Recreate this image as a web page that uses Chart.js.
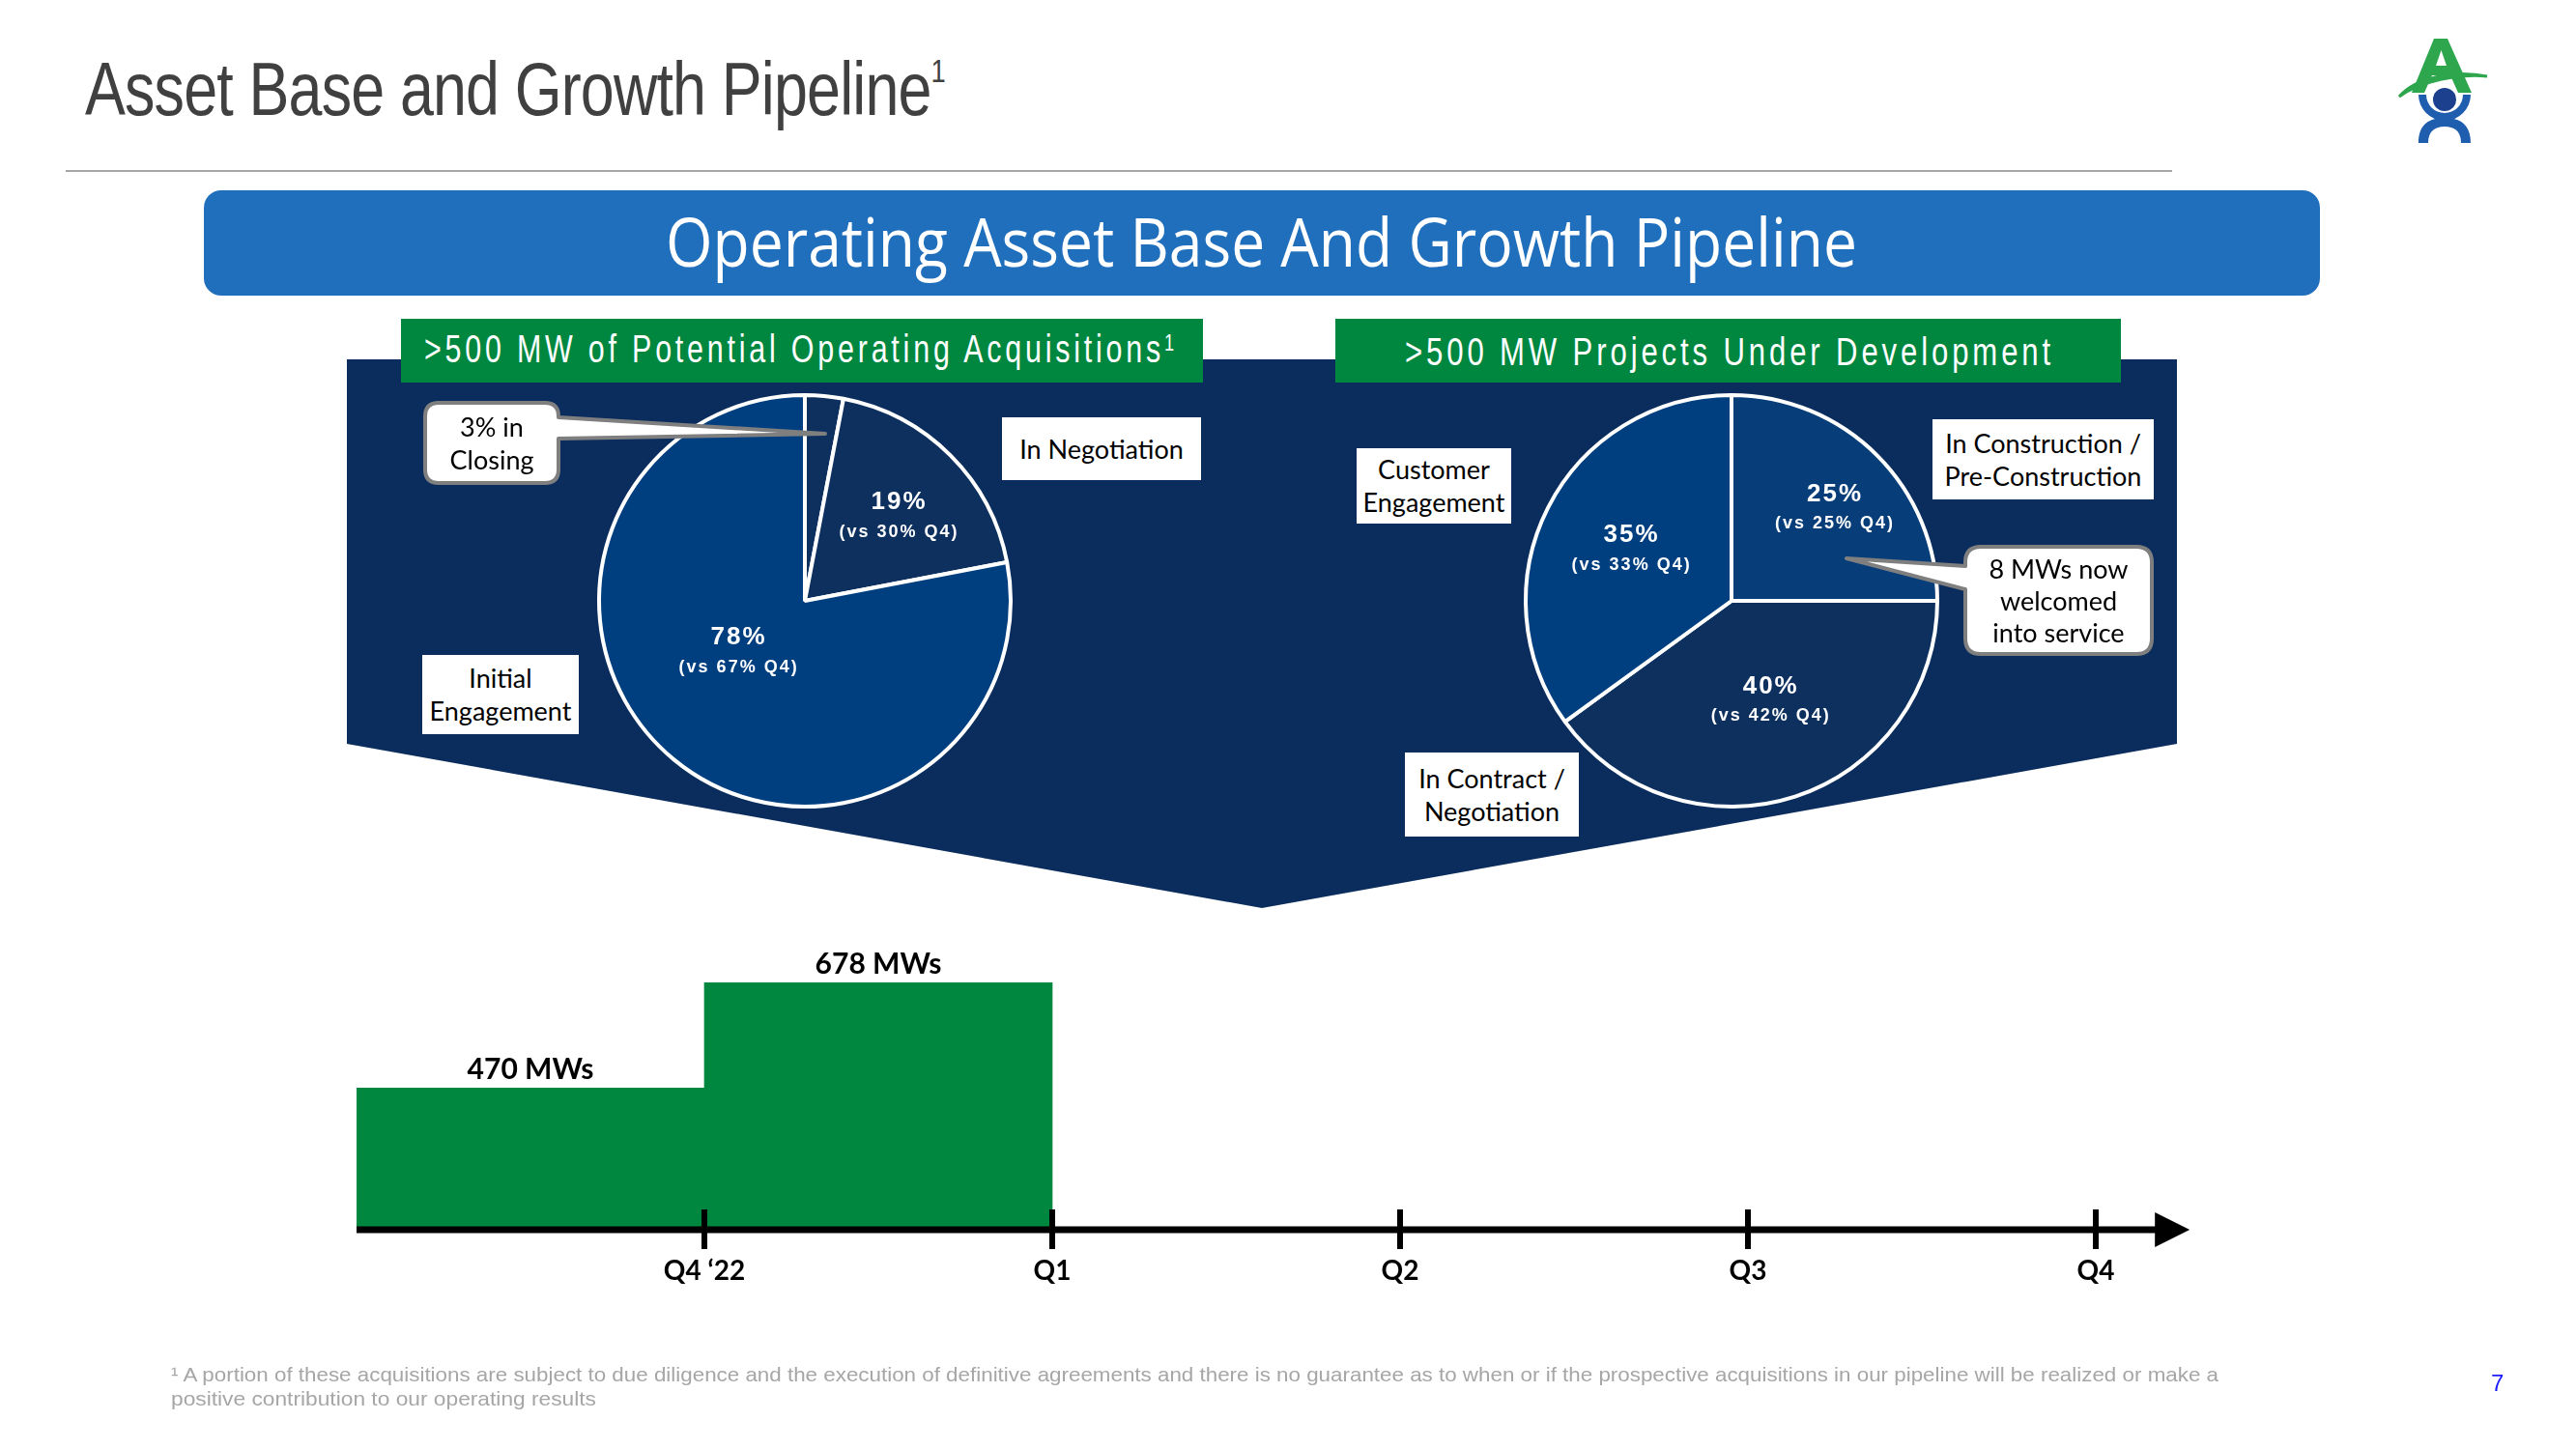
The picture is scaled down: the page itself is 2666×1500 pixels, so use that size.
<!DOCTYPE html>
<html><head><meta charset="utf-8">
<script src="https://cdn.jsdelivr.net/npm/chart.js@4.4.0/dist/chart.umd.min.js"></script>
<style>
html,body{margin:0;padding:0;background:#fff;}
body{width:2666px;height:1500px;position:relative;overflow:hidden;font-family:"Liberation Sans",Arial,sans-serif;}
.abs{position:absolute;}
.fit{white-space:nowrap;transform-origin:0 50%;display:inline-block;}
.row{position:absolute;display:flex;align-items:center;}
.box{position:absolute;background:#fff;display:flex;align-items:center;justify-content:center;text-align:center;font-family:Lato,"Open Sans",sans-serif;font-size:27px;line-height:34px;color:#000;}
canvas{position:absolute;}
</style></head>
<body>
<!-- title -->
<div class="abs fit" data-w="890" style="left:88px;top:53px;font-size:78px;line-height:78px;color:#404040;letter-spacing:-1px;">Asset Base and Growth Pipeline<span style="font-size:34px;position:relative;top:-34px;">1</span></div>
<div class="abs" style="left:68px;top:176px;width:2180px;height:2px;background:#a6a6a6;"></div>

<!-- logo -->
<svg class="abs" style="left:2470px;top:30px" width="120" height="130" viewBox="2470 30 120 130">
  <path d="M2519,40 H2533 L2558,96 H2544 L2536,78 H2517 L2509,96 H2496 Z M2521,68 H2532 L2526.5,52 Z" fill="#2ea64d" fill-rule="evenodd"/>
  <path d="M2483,100 C2500,80 2540,72 2574,79 C2545,76 2505,84 2483,100 Z" fill="#2ea64d" stroke="#2ea64d" stroke-width="3"/>
  <circle cx="2530" cy="103" r="12" fill="#1c3f8e"/>
  <path d="M2503,98 A27,27 0 0 0 2557,98 L2549,98 A19,19 0 0 1 2511,98 Z" fill="#1f5eae"/>
  <path d="M2503,148 C2503,128 2515,122 2530,122 C2545,122 2557,128 2557,148 H2547 C2547,136 2540,131 2530,131 C2520,131 2513,136 2513,148 Z" fill="#1f5eae"/>
</svg>

<!-- banner -->
<div class="abs" style="left:211px;top:197px;width:2190px;height:109px;background:#1f6fbd;border-radius:18px;"></div>
<div class="row" style="left:689px;top:194px;height:109px;"><span class="fit" data-w="1233" style="font-family:'Open Sans',sans-serif;font-size:70px;line-height:70px;color:#fff;">Operating Asset Base And Growth Pipeline</span></div>

<!-- navy funnel -->
<svg class="abs" style="left:0;top:0" width="2666" height="1500">
  <polygon points="359,372 2253,372 2253,770 1306,940 359,770" fill="#0b2d5d"/>
</svg>

<!-- green headers -->
<div class="abs" style="left:415px;top:330px;width:830px;height:66px;background:#00873f;"></div>
<div class="abs" style="left:1382px;top:330px;width:813px;height:66px;background:#00873f;"></div>
<div class="row" style="left:439px;top:331px;height:66px;"><span class="fit" data-w="780" style="font-size:40px;line-height:40px;color:#fff;letter-spacing:5px;">&gt;500 MW of Potential Operating Acquisitions<span style="font-size:24px;position:relative;top:-12px;">1</span></span></div>
<div class="row" style="left:1454px;top:331px;height:66px;"><span class="fit" data-w="672" style="font-size:40px;line-height:40px;color:#fff;letter-spacing:5px;">&gt;500 MW Projects Under Development</span></div>

<!-- charts -->
<canvas id="pieAcq" width="460" height="460" style="left:603px;top:392px;"></canvas>
<canvas id="pieDev" width="460" height="460" style="left:1562px;top:392px;"></canvas>
<canvas id="bar" width="2239" height="440" style="left:300px;top:940px;"></canvas>

<!-- callouts -->
<svg class="abs" style="left:0;top:0" width="2666" height="1500">
  <path d="M454,417 H564 Q578,417 578,431 L578,432 L854,449 L578,454 L578,486 Q578,500 564,500 H454 Q440,500 440,486 V431 Q440,417 454,417 Z" fill="#fff" stroke="#7f7f7f" stroke-width="4" stroke-linejoin="round"/>
  <path d="M2050,566 H2211 Q2227,566 2227,582 V661 Q2227,677 2211,677 H2050 Q2034,677 2034,661 V610 L1911,578 L2034,586 V582 Q2034,566 2050,566 Z" fill="#fff" stroke="#7f7f7f" stroke-width="4" stroke-linejoin="round"/>
</svg>
<div class="box" style="left:440px;top:417px;width:138px;height:83px;background:transparent;">3% in<br>Closing</div>
<div class="box" style="left:2034px;top:566px;width:193px;height:111px;background:transparent;line-height:33px;">8 MWs now<br>welcomed<br>into service</div>

<!-- label boxes -->
<div class="box" style="left:1037px;top:432px;width:206px;height:65px;">In Negotiation</div>
<div class="box" style="left:437px;top:678px;width:162px;height:82px;">Initial<br>Engagement</div>
<div class="box" style="left:1404px;top:464px;width:160px;height:78px;">Customer<br>Engagement</div>
<div class="box" style="left:2000px;top:434px;width:229px;height:83px;">In Construction /<br>Pre-Construction</div>
<div class="box" style="left:1454px;top:779px;width:180px;height:87px;">In Contract /<br>Negotiation</div>

<!-- footnote -->
<div class="abs fit" data-w="2119" style="left:177px;top:1412px;font-size:21px;line-height:21px;color:#a6a6a6;">¹ A portion of these acquisitions are subject to due diligence and the execution of definitive agreements and there is no guarantee as to when or if the prospective acquisitions in our pipeline will be realized or make a</div>
<div class="abs fit" data-w="440" style="left:177px;top:1437px;font-size:21px;line-height:21px;color:#a6a6a6;">positive contribution to our operating results</div>
<div class="abs" style="left:2578px;top:1420px;font-size:24px;line-height:24px;color:#1a1aff;">7</div>

<script>
// ---------- data ----------
const acqCategories = ['Closing', 'In Negotiation', 'Initial Engagement'];
const acqShares = [3, 19, 78];
const acqPriorQ4 = [null, 30, 67];

const devCategories = ['In Construction / Pre-Construction', 'In Contract / Negotiation', 'Customer Engagement'];
const devShares = [25, 40, 35];
const devPriorQ4 = [25, 42, 33];

const timelineLabels = ['Q4 \u201822', 'Q1', 'Q2', 'Q3', 'Q4'];
const timelineTicks = [1, 2, 3, 4, 5];
const capacityPeriods = ['Q4 \u201822', 'Q1'];
const capacityMW = [470, 678];

// ---------- fit text widths ----------
document.querySelectorAll('.fit[data-w]').forEach(el => {
  const w = el.getBoundingClientRect().width;
  const target = +el.dataset.w;
  if (w > 0) el.style.transform = 'scaleX(' + (target / w) + ')';
});

// ---------- pies ----------
const pieLabelPlugin = {
  id: 'pieLabels',
  afterDatasetsDraw(chart, args, opts) {
    const ctx = chart.ctx;
    const meta = chart.getDatasetMeta(0);
    const ds = chart.data.datasets[0];
    meta.data.forEach((arc, i) => {
      const place = opts.place[i];
      if (!place) return;
      const p = arc.getProps(['x', 'y', 'startAngle', 'endAngle', 'outerRadius']);
      const a = (p.startAngle + p.endAngle) / 2 + place[1] * Math.PI / 180;
      const r = p.outerRadius * place[0];
      const cx = p.x + Math.cos(a) * r, cy = p.y + Math.sin(a) * r;
      ctx.save();
      ctx.fillStyle = '#fff';
      ctx.textAlign = 'center';
      ctx.textBaseline = 'middle';
      ctx.letterSpacing = '2px';
      ctx.font = 'bold 26px "Liberation Sans", Arial, sans-serif';
      ctx.fillText(ds.data[i] + '%', cx + 1, cy - 15);
      ctx.font = 'bold 18px "Liberation Sans", Arial, sans-serif';
      ctx.fillText('(vs ' + opts.prior[i] + '% Q4)', cx + 1, cy + 16);
      ctx.restore();
    });
  }
};

function makePie(id, labels, shares, colors, prior, place) {
  return new Chart(document.getElementById(id), {
    type: 'pie',
    data: { labels: labels, datasets: [{ data: shares, backgroundColor: colors, borderColor: '#ffffff', borderWidth: 4, radius: 213, hoverOffset: 0 }] },
    options: {
      responsive: false, animation: false, events: [],
      layout: { padding: 0 },
      plugins: { legend: { display: false }, tooltip: { enabled: false }, pieLabels: { prior: prior, place: place } }
    },
    plugins: [pieLabelPlugin]
  });
}

makePie('pieAcq', acqCategories, acqShares, ['#0d305f', '#0d305f', '#003f7f'], acqPriorQ4,
  [null, [0.61, 3], [0.41, 13]]);
makePie('pieDev', devCategories, devShares, ['#073d79', '#0d305f', '#003f7f'], devPriorQ4,
  [[0.67, 3], [0.52, -3], [0.55, 0]]);

// ---------- timeline bars ----------
const timelinePlugin = {
  id: 'timeline',
  afterDatasetsDraw(chart, args, o) {
    const { ctx } = chart;
    const x = chart.scales.x, y = chart.scales.y;
    const y0 = y.getPixelForValue(y.min);
    const xs = x.getPixelForValue(o.start), xe = x.getPixelForValue(o.end);
    ctx.save();
    ctx.fillStyle = '#000'; ctx.strokeStyle = '#000';
    ctx.lineWidth = 7;
    ctx.beginPath(); ctx.moveTo(xs, y0); ctx.lineTo(xe - 30, y0); ctx.stroke();
    ctx.beginPath(); ctx.moveTo(xe, y0); ctx.lineTo(xe - 36, y0 - 18); ctx.lineTo(xe - 36, y0 + 18); ctx.closePath(); ctx.fill();
    ctx.lineWidth = 6;
    ctx.font = 'bold 28px Lato, "Open Sans", sans-serif';
    ctx.textAlign = 'center'; ctx.textBaseline = 'middle';
    o.ticks.forEach((t, i) => {
      const px = x.getPixelForValue(t);
      ctx.beginPath(); ctx.moveTo(px, y0 - 21); ctx.lineTo(px, y0 + 20); ctx.stroke();
      ctx.fillText(o.labels[i], px, y0 + 43);
    });
    const meta = chart.getDatasetMeta(0);
    ctx.font = 'bold 30px Lato, "Open Sans", sans-serif';
    ctx.textBaseline = 'alphabetic';
    meta.data.forEach((bar, i) => {
      ctx.fillText(chart.data.datasets[0].data[i].y + ' MWs', bar.x, bar.y - 9);
    });
    ctx.restore();
  }
};

new Chart(document.getElementById('bar'), {
  type: 'bar',
  data: {
    datasets: [{
      data: capacityPeriods.map((p, i) => ({ x: timelineTicks[timelineLabels.indexOf(p)] - 0.5, y: capacityMW[i] })),
      backgroundColor: '#00873f', borderWidth: 0, barPercentage: 1, categoryPercentage: 1
    }]
  },
  options: {
    responsive: false, animation: false, events: [],
    layout: { padding: { left: 69, right: 10, top: 60, bottom: 107 } },
    scales: {
      x: { type: 'linear', min: 0, max: 6, offset: false, display: false, ticks: { stepSize: 1 } },
      y: { type: 'linear', min: 190, max: 711, display: false }
    },
    plugins: { legend: { display: false }, tooltip: { enabled: false },
      timeline: { start: 0, end: 5.27, ticks: timelineTicks, labels: timelineLabels } }
  },
  plugins: [timelinePlugin]
});
</script>
</body></html>
